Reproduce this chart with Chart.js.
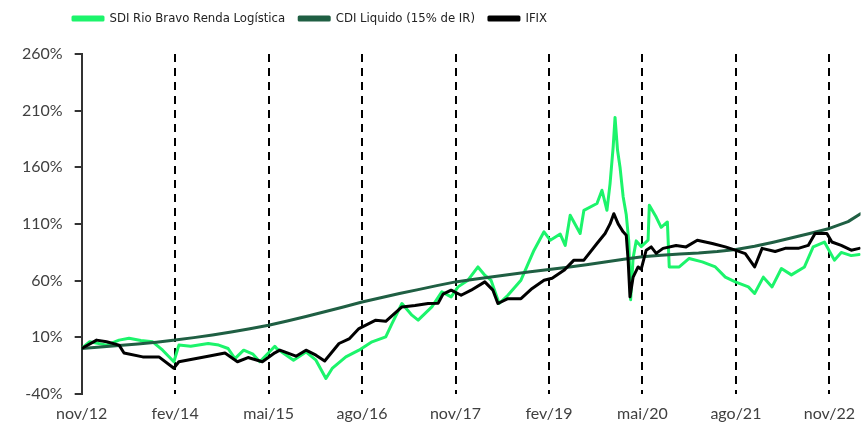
<!DOCTYPE html>
<html>
<head>
<meta charset="utf-8">
<script src="https://cdn.jsdelivr.net/npm/chart.js@4"></script>
<style>
  html, body { margin: 0; padding: 0; background: #fff; }
  #wrap { width: 865px; height: 427px; }
</style>
</head>
<body>
<div id="wrap"><canvas id="c"></canvas></div>
<script>
// eixo x em meses desde nov/12
const xLabels = ['nov/12', 'fev/14', 'mai/15', 'ago/16', 'nov/17', 'fev/19', 'mai/20', 'ago/21', 'nov/22'];
const xTicks = [0, 15, 30, 45, 60, 75, 90, 105, 120];

const sdiMonths = [0, 1.3, 4, 6, 7.6, 9.5, 11.4, 13, 14.8, 15.6, 17.5, 20.3, 22, 23.5, 24.6, 26, 27.5, 28.6, 31, 31.3, 34, 36, 37.6, 39.2, 40.2, 42.4, 44.5, 46.6, 48.8, 49.8, 51.4, 53, 54, 56.2, 57.8, 59.3, 60.4, 62, 63.6, 64.7, 65.7, 67, 68.4, 70.5, 72.6, 74.2, 75.2, 76.8, 77.6, 78.4, 80, 80.6, 82.7, 83.5, 84.3, 84.8, 85.3, 85.6, 86, 86.4, 86.9, 87.4, 87.8, 88.1, 88.5, 89, 89.8, 90.9, 91.1, 92.2, 93, 94, 94.3, 95.9, 97.5, 99.6, 101.7, 103.3, 104.9, 107, 108, 109.4, 110.8, 112.3, 113.9, 116, 117.4, 119.2, 120.8, 121.9, 123.5, 124.8];
const sdiValues = [0, 6, 3, 7.4, 9, 7, 5.9, -1.5, -11.7, 3, 2, 4.4, 3, 0, -9, -1.5, -5, -11.7, 2, 0, -10.3, -3, -10.3, -26.5, -17.6, -7.4, -1.5, 5.9, 10.3, 22, 39.7, 29.4, 25, 36.7, 50, 45.6, 54.4, 60.3, 72, 64.7, 60.3, 39.7, 47, 60.3, 86.8, 103, 95.6, 101, 91, 117.7, 101.5, 122, 128, 139.7, 122, 145.6, 178, 204, 175, 160, 134, 118, 95, 43, 80, 95, 90, 95.6, 126.5, 116, 107, 111.7, 72, 72, 79.5, 76.5, 72, 63, 58.8, 54.4, 48.6, 63, 54.4, 70.6, 65, 72, 89.7, 94, 78, 84.8, 82, 83];

const cdiMonths = [0, 3, 6, 9, 12, 15, 18, 21, 24, 27, 30, 33, 36, 39, 42, 45, 48, 51, 54, 57, 60, 63, 66, 69, 72, 75, 78, 81, 84, 87, 90, 93, 96, 99, 102, 105, 108, 111, 114, 117, 120, 123, 125];
const cdiValues = [0, 1.3, 2.6, 4.0, 5.6, 7.4, 9.6, 12.0, 14.6, 17.4, 20.5, 24.2, 28.2, 32.4, 36.7, 41.0, 44.8, 48.5, 52.0, 55.5, 58.8, 61.2, 63.4, 65.6, 67.7, 69.7, 71.8, 74.0, 76.3, 78.8, 81.0, 82.4, 83.4, 84.3, 85.6, 87.4, 90.2, 93.8, 97.7, 101.8, 106, 112, 119];

const ifixMonths = [0, 2.4, 4, 6, 6.8, 9.8, 12.4, 14.8, 15.6, 20.3, 23, 25, 26.7, 29, 31, 31.8, 34.4, 36, 37.6, 39, 41.3, 43, 44.5, 47.2, 48.8, 51.4, 53.5, 55.6, 57.2, 58, 59.3, 60.9, 62.5, 64.7, 66, 66.8, 68.4, 70.5, 72.3, 74.2, 75.5, 77.4, 79, 80.6, 82.7, 84, 84.8, 85.4, 86.1, 86.9, 87.4, 87.7, 88, 88.5, 89.3, 89.8, 90.6, 91.4, 92.2, 93.3, 95.4, 97, 98.8, 101.2, 103.3, 104.9, 106.5, 108, 109.2, 111.3, 112.9, 115, 116.6, 117.7, 119.6, 120.4, 121.9, 123.5, 124.8];
const ifixValues = [0, 7.4, 5.9, 3, -4, -7.4, -7.4, -17.4, -11.7, -6.8, -4, -11.7, -8, -11.7, -3.8, -1.5, -6.8, -1.5, -5.9, -11, 4.4, 8.8, 17.6, 25, 24, 36.7, 38, 39.7, 40, 48, 51.5, 47, 51.5, 58.8, 51.5, 39.7, 44, 44, 53, 60.3, 62, 69, 78, 78, 92.7, 101.5, 110, 119, 110, 103, 100, 78, 45.6, 63, 72, 70, 86.8, 89.7, 84, 88.4, 91, 89.7, 95.6, 92.7, 89.7, 86.8, 83.8, 72, 88.4, 85.6, 88.4, 88.4, 91, 101.5, 101.5, 94, 91, 86.8, 88.4];

const toPoints = (xs, ys) => xs.map((m, i) => ({ x: m, y: ys[i] }));

// move a legenda para a posição do original
const legendShift = {
  id: 'legendShift',
  afterLayout(chart) {
    chart.legend.left += 49;
    chart.legend.top -= 19;
  }
};

new Chart(document.getElementById('c'), {
  type: 'line',
  data: {
    datasets: [
      {
        label: 'SDI Rio Bravo Renda Logística',
        data: toPoints(sdiMonths, sdiValues),
        borderColor: '#1cf46b',
        backgroundColor: '#1cf46b',
        borderWidth: 3,
        order: 2
      },
      {
        label: 'CDI Liquido (15% de IR)',
        data: toPoints(cdiMonths, cdiValues),
        borderColor: '#1f5f43',
        backgroundColor: '#1f5f43',
        borderWidth: 3,
        order: 1
      },
      {
        label: 'IFIX',
        data: toPoints(ifixMonths, ifixValues),
        borderColor: '#000000',
        backgroundColor: '#000000',
        borderWidth: 3,
        order: 0
      }
    ]
  },
  plugins: [legendShift],
  options: {
    responsive: true,
    maintainAspectRatio: false,
    animation: false,
    layout: { padding: { left: 10, right: 0, top: 17, bottom: -6 } },
    elements: {
      point: { radius: 0 },
      line: { tension: 0, borderJoinStyle: 'round', borderCapStyle: 'round' }
    },
    plugins: {
      tooltip: { enabled: false },
      legend: {
        position: 'top',
        align: 'start',
        labels: {
          boxWidth: 30,
          boxHeight: 3,
          padding: 14,
          color: '#222',
          font: { family: "'DejaVu Sans Condensed', sans-serif", size: 13 },
          sort: (a, b) => a.datasetIndex - b.datasetIndex
        }
      }
    },
    scales: {
      x: {
        type: 'linear',
        min: 0,
        max: 125,
        afterBuildTicks: (scale) => { scale.ticks = xTicks.map(v => ({ value: v })); },
        border: { display: false, dash: [8, 6] },
        grid: {
          drawTicks: false,
          lineWidth: 2,
          color: (ctx) => (ctx.tick && ctx.tick.value === 0) ? 'rgba(0,0,0,0)' : '#000'
        },
        ticks: {
          padding: 10,
          color: '#404040',
          font: { family: 'Lato', size: 16 },
          maxRotation: 0,
          autoSkip: false,
          callback: (v) => xLabels[xTicks.indexOf(v)] || ''
        }
      },
      y: {
        min: -40,
        max: 260,
        border: { display: true, color: '#333', width: 2 },
        grid: {
          drawOnChartArea: false,
          drawTicks: true,
          tickLength: 7,
          color: '#333',
          lineWidth: 2
        },
        ticks: {
          stepSize: 50,
          padding: 12,
          color: '#404040',
          font: { family: 'Lato', size: 16 },
          callback: (v) => v + '%'
        }
      }
    }
  }
});
</script>
</body>
</html>
